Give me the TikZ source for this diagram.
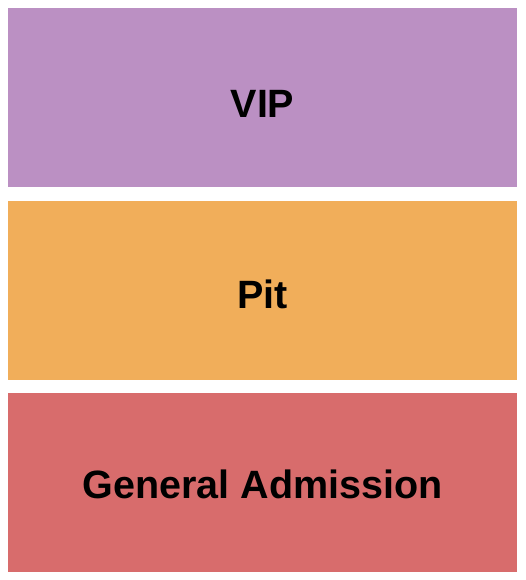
\documentclass[tikz,border=0pt]{standalone}
\usepackage{fontspec}
\setmainfont{Liberation Sans}
\definecolor{vipc}{HTML}{BB90C3}
\definecolor{pitc}{HTML}{F1AE5A}
\definecolor{gac}{HTML}{D86C6C}
\tikzset{
  zone/.style={inner sep=0pt, outer sep=0pt, minimum width=509pt, minimum height=179pt, draw=none},
  zlabel/.style={anchor=base, inner sep=0pt, font=\fontsize{39.5}{47}\selectfont\bfseries, text=black}
}
\begin{document}
\begin{tikzpicture}[x=1pt,y=1pt]
\useasboundingbox[fill=white] (0,0) rectangle (525,580);
\node[zone, fill=vipc, anchor=north west] (vip) at (8,572) {};
\node[zone, fill=pitc, anchor=north west] (pit) at (8,379) {};
\node[zone, fill=gac, anchor=north west] (ga) at (8,187) {};
\node[zlabel] (viplabel) at (262.5,462) {VIP};
\node[zlabel] (pitlabel) at (262.5,271) {Pit};
\node[zlabel] (galabel) at (262.5,81) {General Admission};
\end{tikzpicture}
\end{document}
